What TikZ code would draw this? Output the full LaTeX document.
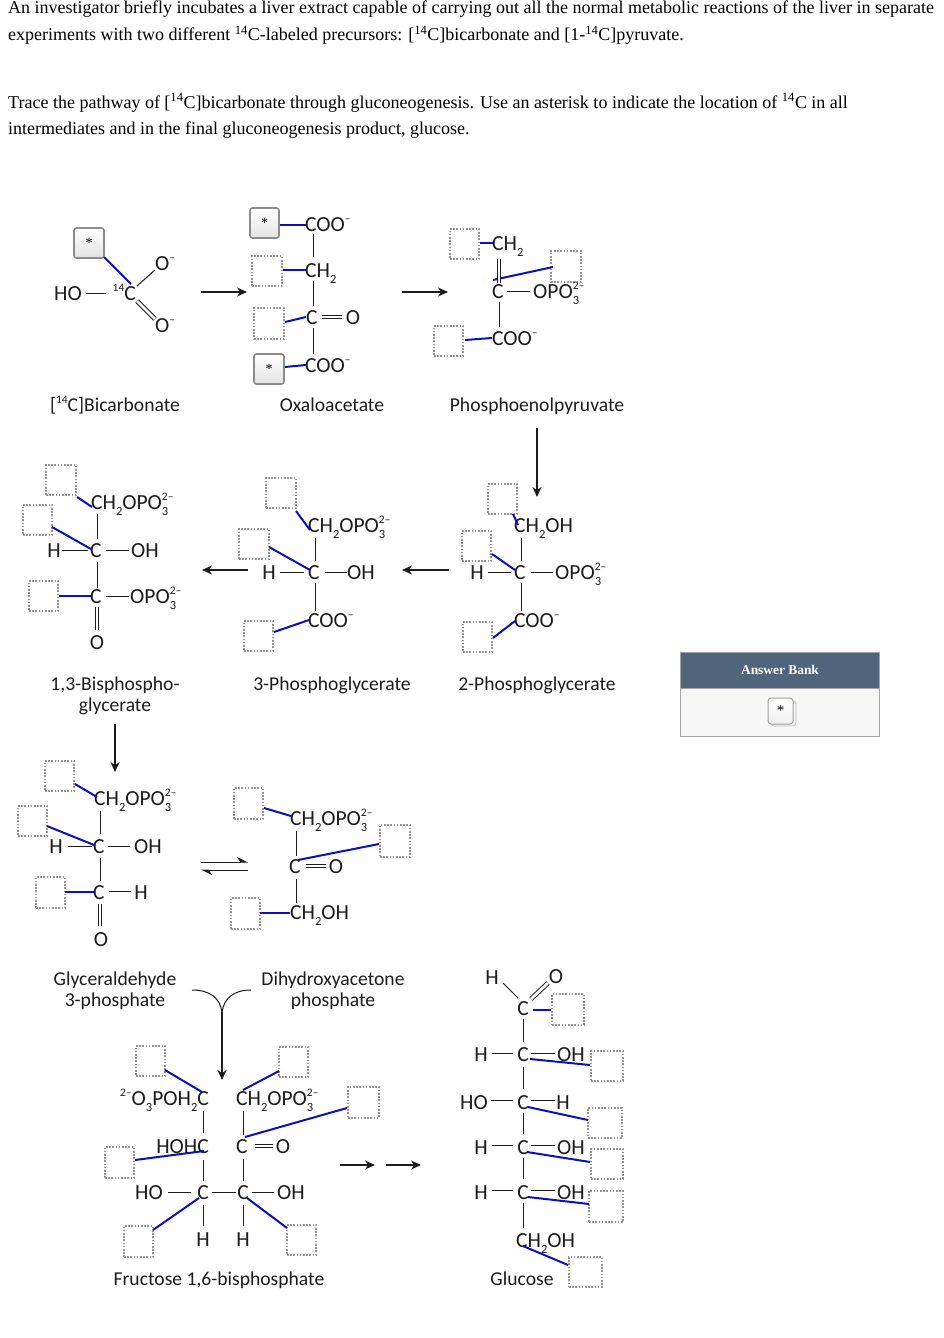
\documentclass[tikz,border=0pt]{standalone}
\usepackage{fontspec}
\usetikzlibrary{arrows.meta}
\setmainfont{Liberation Serif}
\newfontfamily\chemfam{Carlito}
\definecolor{bondblue}{HTML}{0A12B4}
\definecolor{ink}{HTML}{1C1C1C}
\definecolor{bankhead}{HTML}{50657C}
\newcommand\hi[1]{\raisebox{.40em}{\fontsize{11.5}{12}\selectfont #1}}
\newcommand\lo[1]{\raisebox{-.28em}{\fontsize{12.5}{13}\selectfont #1}}
\newcommand\both[2]{\makebox[0pt][l]{\hi{#1}}\lo{#2}}
\newcounter{bondno}
\newcommand\lnk[5]{\stepcounter{bondno}\coordinate (e\thebondno a) at (#2,#3);\coordinate (e\thebondno b) at (#4,#5);\draw[#1] (e\thebondno a) -- (e\thebondno b);}
\newcommand\bb[4]{\lnk{bluebond}{#1}{#2}{#3}{#4}}
\newcommand\kb[4]{\lnk{kbond}{#1}{#2}{#3}{#4}}
\newcommand\db[4]{\lnk{dbond}{#1}{#2}{#3}{#4}}
\newcommand\arw[4]{\lnk{rxn}{#1}{#2}{#3}{#4}}
\newcommand\blankb[5]{\node[blankbox,minimum width=#4-#2,minimum height=#5-#3] (#1) at ({(#2+#4)/2},{(#3+#5)/2}) {};}
\newcommand\starb[5]{\node[starbox,minimum width=#4-#2,minimum height=#5-#3] (#1) at ({(#2+#4)/2},{(#3+#5)/2}) {*};}
\tikzset{
 x=1pt,y=-1pt,
 atom/.style={inner sep=0pt,font=\chemfam\fontsize{21.5}{23}\selectfont,text=ink,anchor=base,yshift=-1pt},
 latom/.style={atom,anchor=base west},
 ratom/.style={atom,anchor=base east},
 lbl/.style={atom,font=\chemfam\fontsize{19.6}{22}\selectfont,yshift=1pt},
 para/.style={inner sep=0pt,anchor=base west,font=\fontsize{18}{20}\selectfont,text=black},
 blankbox/.style={draw=gray!85,dash pattern=on 1.6pt off 1.6pt,line width=1.2pt,inner sep=0pt,outer sep=0pt},
 starbox/.style={draw=gray!90,line width=1.6pt,rounded corners=2.5pt,inner sep=0pt,outer sep=0pt,top color=white,bottom color=gray!22,font=\fontsize{14}{14}\selectfont},
 bluebond/.style={draw=bondblue,line width=2pt},
 kbond/.style={draw=ink,line width=1pt},
 dbond/.style={draw=ink,line width=.95pt,double,double distance=2.8pt},
 rxn/.style={draw=ink,line width=1.1pt,-{Stealth[length=10pt,width=9pt]}},
}
\begin{document}
\begin{tikzpicture}
\path[use as bounding box,fill=white] (0,0) rectangle (943,1338);
% question text
\node[para] (t1) at (8,14) {An investigator briefly incubates a liver extract capable of carrying out all the normal metabolic reactions of the liver in separate};
\node[para] (t2) at (8,41) {experiments with two different \textsuperscript{14}C-labeled precursors: [\textsuperscript{14}C]bicarbonate and [1-\textsuperscript{14}C]pyruvate.};
\node[para] (t3) at (8,108) {Trace the pathway of [\textsuperscript{14}C]bicarbonate through gluconeogenesis. Use an asterisk to indicate the location of \textsuperscript{14}C in all};
\node[para] (t4) at (8,134) {intermediates and in the final gluconeogenesis product, glucose.};

% Bicarbonate
\starb{s1}{74}{228}{104}{258}
\bb{104}{257}{131}{284}
\node[atom] (bHO) at (68,299) {HO};
\node[ratom] (bC) at (136,299) {\hi{14}C};
\node[atom] (bO1) at (165,269) {O\hi{–}};
\node[atom] (bO2) at (165,331) {O\hi{–}};
\kb{86}{293}{106}{293}
\kb{137}{286}{155}{270}
\db{137}{301}{155}{319}
\node[lbl] (l1) at (115,411) {[\hi{14}C]Bicarbonate};
\arw{201}{292}{247}{292}

% Oxaloacetate
\starb{s2}{250}{208}{279}{238}
\blankb{o2}{252}{256}{282}{286}
\blankb{o3}{254}{308}{284}{339}
\starb{s4}{254}{354}{284}{384}
\bb{280}{225}{307}{225}
\bb{283}{270}{306}{270}
\bb{285}{322}{306}{317}
\bb{285}{367}{306}{365}
\node[latom] (oc1) at (305,230) {COO\hi{–}};
\node[latom] (oc2) at (305,276) {CH\lo{2}};
\node[latom] (oc3) at (306,323) {C};
\node[atom] (oc3o) at (353,323) {O};
\node[latom] (oc4) at (305,371) {COO\hi{–}};
\kb{313}{234}{313}{257}
\kb{313}{281}{313}{306}
\db{322}{317}{342}{317}
\kb{313}{328}{313}{354}
\node[lbl] (l2) at (332,411) {Oxaloacetate};
\arw{402}{292}{448}{292}

% PEP
\blankb{p1}{450}{229}{479}{259}
\blankb{p2}{551}{251}{581}{282}
\blankb{p3}{434}{326}{463}{356}
\node[latom] (pc1) at (492,249) {CH\lo{2}};
\node[latom] (pc2) at (492,297) {C};
\node[latom] (pc2o) at (533,297) {OPO\both{2–}{3}};
\node[latom] (pc3) at (492,344) {COO\hi{–}};
\bb{480}{243}{493}{243}
\bb{493}{280}{553}{267}
\bb{465}{340}{492}{338}
\db{499}{259}{499}{283}
\kb{507}{291}{530}{291}
\kb{499}{302}{499}{327}
\node[lbl] (l3) at (537,411) {Phosphoenolpyruvate};
\arw{537}{428}{537}{497}

% 1,3-BPG
\blankb{g1}{46}{465}{76}{495}
\blankb{g2}{23}{505}{52}{535}
\blankb{g3}{29}{581}{58}{611}
\node[latom] (gc1) at (91,508) {CH\lo{2}OPO\both{2–}{3}};
\node[latom] (gc2) at (90,556) {C};
\node[atom] (gH) at (54,556) {H};
\node[atom] (gOH) at (145,556) {OH};
\node[latom] (gc3) at (90,602) {C};
\node[latom] (gOP) at (130,602) {OPO\both{2–}{3}};
\node[atom] (gO) at (97,648) {O};
\bb{77}{497}{92}{507}
\bb{52}{527}{91}{549}
\bb{59}{596}{91}{596}
\kb{97}{514}{97}{539}
\kb{62}{550}{88}{550}
\kb{106}{550}{129}{550}
\kb{97}{562}{97}{588}
\kb{106}{596}{129}{596}
\db{97}{607}{97}{630}
\node[lbl] (l4a) at (115,690) {1,3-Bisphospho-};
\node[lbl] (l4b) at (115,711) {glycerate};
\arw{248}{570}{202}{570}

% 3PG
\blankb{h1}{266}{478}{296}{508}
\blankb{h2}{239}{529}{269}{559}
\blankb{h3}{244}{621}{273}{651}
\node[latom] (hc1) at (308,531) {CH\lo{2}OPO\both{2–}{3}};
\node[latom] (hc2) at (308,578) {C};
\node[atom] (hH) at (269,578) {H};
\node[atom] (hOH) at (361,578) {OH};
\node[latom] (hc3) at (308,626) {COO\hi{–}};
\bb{296}{511}{310}{530}
\bb{269}{547}{310}{570}
\bb{274}{632}{309}{620}
\kb{315}{538}{315}{561}
\kb{280}{572}{304}{572}
\kb{325}{572}{347}{572}
\kb{315}{583}{315}{611}
\node[lbl] (l5) at (332,690) {3-Phosphoglycerate};
\arw{449}{570}{402}{570}

% 2PG
\blankb{i1}{488}{484}{517}{514}
\blankb{i2}{462}{531}{491}{561}
\blankb{i3}{463}{622}{492}{652}
\node[latom] (ic1) at (514,531) {CH\lo{2}OH};
\node[latom] (ic2) at (514,578) {C};
\node[atom] (iH) at (477,578) {H};
\node[latom] (iOP) at (555,578) {OPO\both{2–}{3}};
\node[latom] (ic3) at (514,626) {COO\hi{–}};
\bb{513}{514}{518}{525}
\bb{492}{554}{515}{570}
\bb{493}{638}{515}{621}
\kb{521}{538}{521}{561}
\kb{488}{572}{511}{572}
\kb{531}{572}{553}{572}
\kb{521}{583}{521}{611}
\node[lbl] (l6) at (537,690) {2-Phosphoglycerate};
\arw{115}{724}{115}{772}

% G3P
\blankb{j1}{45}{761}{74}{791}
\blankb{j2}{18}{806}{47}{836}
\blankb{j3}{36}{877}{65}{908}
\node[latom] (jc1) at (94,804) {CH\lo{2}OPO\both{2–}{3}};
\node[latom] (jc2) at (93,852) {C};
\node[atom] (jH) at (56,852) {H};
\node[atom] (jOH) at (148,852) {OH};
\node[latom] (jc3) at (93,898) {C};
\node[atom] (jH2) at (141,898) {H};
\node[atom] (jO) at (101,945) {O};
\bb{75}{784}{97}{797}
\bb{47}{826}{94}{845}
\bb{65}{892}{95}{892}
\kb{100}{811}{100}{834}
\kb{68}{846}{92}{846}
\kb{108}{846}{130}{846}
\kb{100}{858}{100}{881}
\kb{109}{891}{131}{891}
\db{100}{904}{100}{926}
\node[lbl] (l7a) at (115,985) {Glyceraldehyde};
\node[lbl] (l7b) at (115,1006) {3-phosphate};

% equilibrium
\coordinate (eqa) at (201,862); \coordinate (eqb) at (248,862);
\coordinate (eqc) at (248,870); \coordinate (eqd) at (201,870);
\draw[kbond,-{Stealth[harpoon,length=10pt,width=10pt]}] (eqa) -- (eqb);
\draw[kbond,-{Stealth[harpoon,length=10pt,width=10pt]}] (eqc) -- (eqd);

% DHAP
\blankb{k1}{234}{788}{263}{819}
\blankb{k2}{380}{825}{410}{857}
\blankb{k3}{231}{898}{260}{929}
\node[latom] (kc1) at (290,824) {CH\lo{2}OPO\both{2–}{3}};
\node[latom] (kc2) at (289,872) {C};
\node[atom] (kO) at (336,872) {O};
\node[latom] (kc3) at (290,918) {CH\lo{2}OH};
\bb{264}{808}{291}{816}
\bb{298}{860}{379}{844}
\bb{260}{913}{290}{913}
\kb{296}{831}{296}{856}
\db{306}{866}{326}{866}
\kb{296}{879}{296}{903}
\node[lbl] (l8a) at (333,985) {Dihydroxyacetone};
\node[lbl] (l8b) at (333,1006) {phosphate};

% merge
\coordinate (ya) at (192,990); \coordinate (yb) at (251,990); \coordinate (yc) at (222,1012); \coordinate (yd) at (222,1080);
\draw[kbond] (ya) .. controls (210,990) and (220,998) .. (yc);
\draw[kbond] (yb) .. controls (234,990) and (224,998) .. (yc);
\draw[rxn] (yc) -- (yd);

% FBP
\blankb{m1}{136}{1046}{165}{1076}
\blankb{m2}{279}{1047}{308}{1077}
\blankb{m3}{348}{1087}{379}{1118}
\blankb{m4}{105}{1147}{134}{1178}
\blankb{m5}{124}{1226}{153}{1257}
\blankb{m6}{287}{1225}{316}{1255}
\node[ratom] (mc1) at (209,1104) {\hi{2–}O\lo{3}POH\lo{2}C};
\node[latom] (mc2) at (236,1104) {CH\lo{2}OPO\both{2–}{3}};
\node[ratom] (mc3) at (209,1152) {HOHC};
\node[latom] (mc4) at (236,1152) {C};
\node[atom] (mO) at (283,1152) {O};
\node[atom] (mHO) at (149,1198) {HO};
\node[atom] (mc5) at (203,1198) {C};
\node[atom] (mc6) at (243,1198) {C};
\node[atom] (mOH) at (291,1198) {OH};
\node[atom] (mH1) at (203,1245) {H};
\node[atom] (mH2) at (243,1245) {H};
\bb{165}{1070}{202}{1092}
\bb{279}{1071}{243}{1090}
\bb{347}{1108}{245}{1137}
\bb{135}{1160}{204}{1151}
\bb{199}{1198}{153}{1230}
\bb{247}{1198}{287}{1228}
\kb{203}{1111}{203}{1133}
\kb{243}{1111}{243}{1135}
\db{255}{1146}{273}{1146}
\kb{203}{1160}{203}{1181}
\kb{243}{1159}{243}{1181}
\kb{168}{1192}{191}{1192}
\kb{212}{1192}{236}{1192}
\kb{252}{1192}{274}{1192}
\kb{203}{1205}{203}{1226}
\kb{243}{1205}{243}{1226}
\node[lbl] (l9) at (219,1285) {Fructose 1,6-bisphosphate};
\arw{340}{1165}{375}{1165}
\arw{386}{1165}{421}{1165}

% Glucose
\blankb{q1}{552}{994}{584}{1025}
\blankb{q2}{591}{1051}{623}{1081}
\blankb{q3}{588}{1108}{622}{1138}
\blankb{q4}{591}{1149}{623}{1179}
\blankb{q5}{589}{1191}{623}{1222}
\blankb{q6}{569}{1257}{602}{1287}
\node[atom] (qH0) at (492,983) {H};
\node[atom] (qO0) at (556,982) {O};
\node[atom] (qc1) at (523,1014) {C};
\node[atom] (qH1) at (481,1060) {H};
\node[atom] (qc2) at (523,1060) {C};
\node[atom] (qOH1) at (571,1060) {OH};
\node[atom] (qHO2) at (474,1108) {HO};
\node[atom] (qc3) at (523,1108) {C};
\node[atom] (qH2) at (563,1108) {H};
\node[atom] (qH3) at (481,1153) {H};
\node[atom] (qc4) at (523,1153) {C};
\node[atom] (qOH3) at (571,1153) {OH};
\node[atom] (qH4) at (481,1198) {H};
\node[atom] (qc5) at (523,1198) {C};
\node[atom] (qOH4) at (571,1198) {OH};
\node[latom] (qc6) at (516,1246) {CH\lo{2}OH};
\node[lbl] (l10) at (522,1285) {Glucose};
\kb{503}{983}{518}{998}
\db{531}{999}{548}{983}
\bb{533}{1010}{551}{1010}
\kb{523}{1019}{523}{1042}
\kb{492}{1053}{513}{1053}
\kb{531}{1053}{555}{1053}
\bb{530}{1059}{590}{1065}
\kb{523}{1067}{523}{1089}
\kb{491}{1100}{513}{1100}
\kb{531}{1100}{555}{1100}
\bb{528}{1107}{588}{1120}
\kb{523}{1113}{523}{1134}
\kb{492}{1145}{513}{1145}
\kb{531}{1145}{555}{1145}
\bb{527}{1152}{590}{1162}
\kb{523}{1158}{523}{1179}
\kb{492}{1190}{513}{1190}
\kb{531}{1190}{555}{1190}
\bb{528}{1197}{589}{1204}
\kb{523}{1203}{523}{1228}
\bb{523}{1246}{568}{1265}

% Answer bank
\node[draw=gray!70,fill=gray!6,line width=.8pt,minimum width=199pt,minimum height=84pt,inner sep=0pt] (bank) at (780,694) {};
\node[fill=bankhead,draw=gray!70,line width=.8pt,minimum width=199pt,minimum height=36pt,inner sep=0pt,text=white,font=\bfseries\fontsize{13.4}{16}\selectfont] (bankh) at (780,670) {Answer Bank};
\node[draw=gray!50,fill=gray!8,line width=.8pt,rounded corners=3pt,minimum width=25pt,minimum height=25pt,inner sep=0pt] (tileback) at (783.5,713.5) {};
\node[draw=gray!75,line width=1pt,rounded corners=3pt,minimum width=25pt,minimum height=26pt,inner sep=0pt,top color=white,bottom color=gray!12,font=\fontsize{15}{15}\selectfont] (tile) at (780.5,711) {*};
\end{tikzpicture}
\end{document}
